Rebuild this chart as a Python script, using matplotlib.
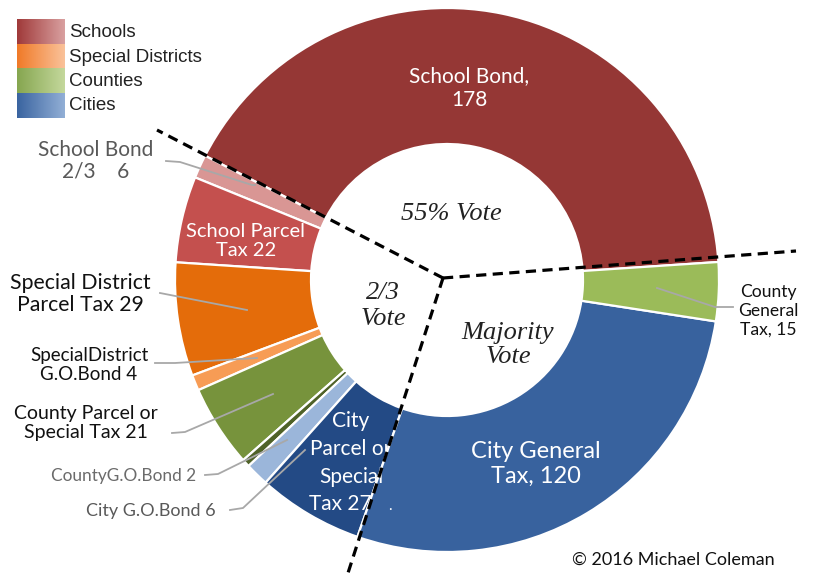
import numpy as np
import matplotlib.pyplot as plt

# Local tax measures by vote threshold, ordered around the ring
measures = ["School Bond", "School Bond 2/3", "School Parcel Tax",
            "Special District Parcel Tax", "Special District G.O. Bond",
            "County Parcel or Special Tax", "County G.O. Bond", "City G.O. Bond",
            "City Parcel or Special Tax", "City General Tax", "County General Tax"]
counts = [178, 6, 22, 29, 4, 21, 2, 6, 27, 120, 15]
colors = ["#953735", "#d99694", "#c4504e", "#e46c0a", "#f79c55", "#77933c",
          "#4f6228", "#9bb6da", "#234a85", "#38629e", "#9bbb59"]

groups = ["Schools", "Special Districts", "Counties", "Cities"]
group_ramps = [("#a03a3a", "#d9a0a0"), ("#f07a28", "#fac29a"),
               ("#86a650", "#c4d89c"), ("#3a64a0", "#92afd6")]

plt.rcParams['font.family'] = ['Lato', 'DejaVu Sans']

fig = plt.figure(figsize=(8.15, 5.73), dpi=100)
ax = fig.add_axes([0, 0, 1, 1])

# y runs downward so everything can be placed in pixel-like units
cx, cy, R = 447, 280, 272
ax.pie(counts, colors=colors, center=(cx, cy), radius=R,
       startangle=-3.8, counterclock=False,
       wedgeprops=dict(width=R * 0.5, edgecolor="white", linewidth=1.6))

ax.set_xlim(0, 815)
ax.set_ylim(573, 0)
ax.set_aspect("equal")
ax.axis("off")

# labels inside the ring
white = dict(color="white", ha="center", va="center")
ax.text(469, 88, f"School Bond,\n{counts[0]}", fontsize=15, linespacing=1.3, **white)
ax.text(536, 464, f"City General\nTax, {counts[9]}", fontsize=17, linespacing=1.25, **white)
ax.text(351, 449, "City\nParcel or\nSpecial", fontsize=15, linespacing=1.5, **white)
ax.text(340, 504, f"Tax {counts[8]}", fontsize=15, **white)
ax.text(390, 506, ".", fontsize=11, **white)
ax.text(246, 241, f"School Parcel\nTax {counts[2]}", fontsize=14.5, linespacing=1.2, **white)

# vote threshold zones
serif = dict(family="Liberation Serif", style="italic", color="#222222",
             ha="center", va="center")
ax.text(451, 214, "55% Vote", fontsize=19, **serif)
ax.text(383, 306, "2/3\nVote", fontsize=19, linespacing=1.2, **serif)
ax.text(508, 345, "Majority\nVote", fontsize=19, linespacing=1.15, **serif)

# dashed dividers between the zones
jx, jy = 443, 278
for ex, ey in [(157, 130), (796, 251), (348, 573)]:
    ax.plot([jx, ex], [jy, ey], color="black", lw=2.3, dashes=(3.2, 2),
            solid_capstyle="butt", zorder=5)

# outside labels with leader lines
lead = dict(color="#a8a8a8", lw=1.3, zorder=4)
ax.plot([166, 180, 252, 255], [161, 162, 185, 185], **lead)
ax.text(96, 161, f"School Bond\n2/3    {counts[1]}", fontsize=15, color="#595959",
        ha="center", va="center", linespacing=1.1)

ax.plot([160, 247], [293, 310], **lead)
ax.text(80, 294, f"Special District\nParcel Tax {counts[3]}", fontsize=15.3,
        color="#111111", ha="center", va="center", linespacing=1.1)

ax.plot([155, 175, 257], [363, 363, 358], **lead)
ax.text(89, 365, f"SpecialDistrict\nG.O.Bond {counts[4]}", fontsize=13.5,
        color="#111111", ha="center", va="center", linespacing=1.15)

ax.plot([172, 185, 273], [433, 432, 394], **lead)
ax.text(86, 423, f"County Parcel or\nSpecial Tax {counts[5]}", fontsize=14,
        color="#111111", ha="center", va="center", linespacing=1.15)

ax.plot([205, 218, 287], [475, 474, 440], **lead)
ax.text(124, 476, f"CountyG.O.Bond {counts[6]}", fontsize=12.4,
        color="#6b6b6b", ha="center", va="center")

ax.plot([230, 243, 305], [510, 508, 450], **lead)
ax.text(151, 511, f"City G.O.Bond {counts[7]}", fontsize=13,
        color="#595959", ha="center", va="center")

ax.plot([733, 715, 657], [307, 307, 288], **lead)
ax.text(768, 311, f"County\nGeneral\nTax, {counts[10]}", fontsize=12.6,
        color="#111111", ha="center", va="center", linespacing=1.2)

ax.text(673, 560, "\u00a9 2016 Michael Coleman", fontsize=13, color="#111111",
        ha="center", va="center")

# legend with shaded swatches
ramp = np.linspace(0, 1, 64)
for i, (name, (c0, c1)) in enumerate(zip(groups, group_ramps)):
    a = np.array(plt.matplotlib.colors.to_rgb(c0))
    b = np.array(plt.matplotlib.colors.to_rgb(c1))
    grad = a[None, None, :] * (1 - ramp)[None, :, None] + b[None, None, :] * ramp[None, :, None]
    top = 20 + i * 24.5
    ax.imshow(grad, extent=(17, 65, top + 24.5, top), aspect="auto", zorder=3)
    ax.text(69, top + 12.5, name, fontsize=13.5, family="Liberation Sans",
            color="#222222", va="center", ha="left")

ax.set_xlim(0, 815)
ax.set_ylim(573, 0)

fig.savefig("out.png", dpi=100)
